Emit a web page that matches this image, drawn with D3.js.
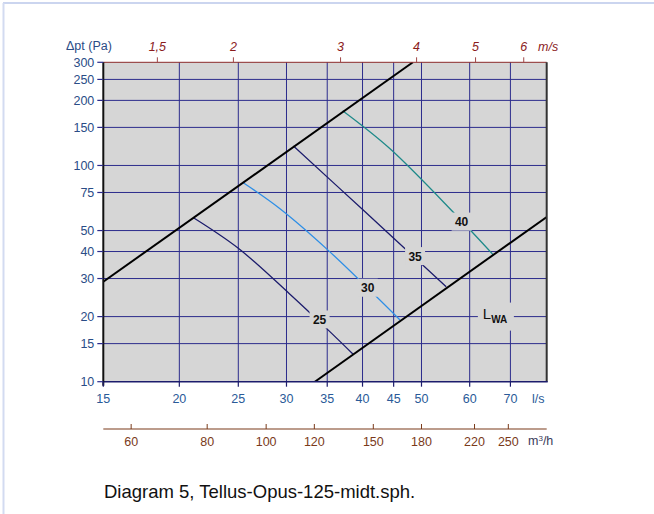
<!DOCTYPE html>
<html>
  <head>
    <meta http-equiv="Content-Type" content="text/html;charset=utf-8"/>
    <script src="https://d3js.org/d3.v7.min.js"></script>
    <style type="text/css">
      body { margin: 0; background: #fff; }
      svg text { font-family: "Liberation Sans", Arial, sans-serif; }
    </style>
  </head>
  <body>
    <div id="chart"></div>

    <script type="text/javascript">
	  // axis ticks
	  var lsTicks = [15, 20, 25, 30, 35, 40, 45, 50, 60, 70];
	  var paTicks = [10, 15, 20, 30, 40, 50, 75, 100, 150, 200, 250, 300];
	  var paGrid = [15, 20, 30, 40, 50, 75, 100, 150, 200, 250];
	  var msTicks = [1.5, 2, 3, 4, 5, 6];
	  var msLabels = ["1,5", "2", "3", "4", "5", "6"];
	  var m3hTicks = [60, 80, 100, 120, 150, 180, 220, 250];

	  // l/s per m/s for the 125 duct
	  var lsPerMs = 12.27;

	  // system lines, [l/s, Pa]
	  var sysUpper = [[15, 29], [48.4, 300]];
	  var sysLower = [[33.4, 10], [80.3, 57.8]];

	  // sound level curves (dB(A)), [l/s, Pa]
	  var curve25 = [[21.1, 57.3], [25, 41.4], [30.3, 25.6], [35, 17.5], [38.6, 13.4]];
	  var curve30 = [[25.4, 83.6], [29.2, 63.4], [35.1, 40.6], [46.1, 19.3]];
	  var curve35 = [[30.8, 123], [40.1, 62.2], [54.9, 27.5]];
	  var curve40 = [[37.1, 179], [44.3, 120], [56.6, 60.1], [65.6, 38.6]];
	  var curveColors = ["#1c1c6c", "#2f8fe6", "#1c1c6c", "#1f8a8a"];

	  // curve labels [text, l/s, Pa]
	  var curveLabels = [["25", 34, 19.4], ["30", 40.8, 27.2], ["35", 48.8, 38.1], ["40", 58.2, 55]];
	  var lwaLabel = [66, 20];

	  var W = 654, H = 514;
	  var pLeft = 103.3, pRight = 546.7, pTop = 62.3, pBottom = 381.7;
	  var gridColor = "#2c2c8c";
	  var plotBg = "#d6d6d6";

	  var svg = d3.select('#chart').append('svg').attr('width', W).attr('height', H);

	  // page frame
	  svg.append('line').attr('x1', 3).attr('x2', W).attr('y1', 3).attr('y2', 3)
	     .attr('stroke', '#cbd5ef').attr('stroke-width', 2);
	  svg.append('line').attr('x1', 3.5).attr('x2', 3.5).attr('y1', 3).attr('y2', H)
	     .attr('stroke', '#d3dbf1').attr('stroke-width', 2);

	  var x = d3.scaleLog().domain([15, 80.3]).range([pLeft, pRight]);
	  var y = d3.scaleLog().domain([10, 300]).range([pBottom, pTop]);

	  svg.append('rect').attr('x', pLeft).attr('y', pTop)
	     .attr('width', pRight - pLeft).attr('height', pBottom - pTop).attr('fill', plotBg);

	  // grid
	  svg.selectAll('.vgrid').data(lsTicks.slice(1)).enter().append('line')
	     .attr('x1', function(d) { return x(d); }).attr('x2', function(d) { return x(d); })
	     .attr('y1', pTop).attr('y2', pBottom).attr('stroke', gridColor).attr('stroke-width', 1);
	  svg.selectAll('.hgrid').data(paGrid).enter().append('line')
	     .attr('x1', pLeft).attr('x2', pRight)
	     .attr('y1', function(d) { return y(d); }).attr('y2', function(d) { return y(d); })
	     .attr('stroke', gridColor).attr('stroke-width', 1);

	  var clip = svg.append('clipPath').attr('id', 'plotclip');
	  clip.append('rect').attr('x', pLeft).attr('y', pTop).attr('width', pRight - pLeft).attr('height', pBottom - pTop);
	  var plot = svg.append('g').attr('clip-path', 'url(#plotclip)');

	  var line = d3.line().x(function(d) { return x(d[0]); }).y(function(d) { return y(d[1]); });
	  var smooth = d3.line().curve(d3.curveCatmullRom.alpha(0.5))
	     .x(function(d) { return x(d[0]); }).y(function(d) { return y(d[1]); });

	  [curve25, curve30, curve35, curve40].forEach(function(c, i) {
		plot.append('path').attr('d', smooth(c)).attr('fill', 'none')
		    .attr('stroke', curveColors[i]).attr('stroke-width', 1.3);
	  });
	  [sysUpper, sysLower].forEach(function(c) {
		plot.append('path').attr('d', line(c)).attr('fill', 'none')
		    .attr('stroke', '#000').attr('stroke-width', 2);
	  });

	  // curve labels with masking box
	  curveLabels.forEach(function(l) {
		var cx = x(l[1]), cy = y(l[2]);
		svg.append('rect').attr('x', cx - 10).attr('y', cy - 9).attr('width', 20).attr('height', 18).attr('fill', plotBg);
		svg.append('text').attr('x', cx).attr('y', cy + 4.5).attr('text-anchor', 'middle')
		   .attr('font-size', 12).attr('font-weight', 'bold').attr('fill', '#111').text(l[0]);
	  });
	  var lx = x(lwaLabel[0]), ly = y(lwaLabel[1]);
	  svg.append('rect').attr('x', lx - 17).attr('y', ly - 14).attr('width', 36).attr('height', 28).attr('fill', plotBg);
	  var lt = svg.append('text').attr('x', lx - 12).attr('y', ly + 2).attr('font-size', 15).attr('fill', '#111');
	  lt.append('tspan').text('L');
	  lt.append('tspan').attr('dy', 4).attr('font-size', 10).attr('font-weight', 'bold').text('WA');

	  // frame lines
	  svg.append('line').attr('x1', pLeft).attr('x2', pRight).attr('y1', pTop).attr('y2', pTop)
	     .attr('stroke', '#8b2a2a').attr('stroke-width', 1);
	  svg.append('line').attr('x1', pRight).attr('x2', pRight).attr('y1', pTop).attr('y2', pBottom)
	     .attr('stroke', '#333').attr('stroke-width', 2);
	  svg.append('line').attr('x1', pLeft).attr('x2', pRight + 1).attr('y1', pBottom).attr('y2', pBottom)
	     .attr('stroke', '#1c1c6c').attr('stroke-width', 1.5);
	  svg.append('line').attr('x1', pLeft).attr('x2', pLeft).attr('y1', pTop).attr('y2', pBottom + 4)
	     .attr('stroke', '#111').attr('stroke-width', 2);

	  // left axis
	  var yTicks = svg.append('g');
	  yTicks.selectAll('line').data(paTicks).enter().append('line')
	     .attr('x1', pLeft - 6).attr('x2', pLeft).attr('y1', function(d) { return y(d); }).attr('y2', function(d) { return y(d); })
	     .attr('stroke', gridColor).attr('stroke-width', 1.2);
	  yTicks.selectAll('text').data(paTicks).enter().append('text')
	     .attr('x', pLeft - 9).attr('y', function(d) { return y(d) + 4.5; }).attr('text-anchor', 'end')
	     .attr('font-size', 12.5).attr('fill', '#2a4c86').text(function(d) { return d; });
	  svg.append('text').attr('x', 66).attr('y', 50).attr('font-size', 12.5).attr('fill', '#2a4c86').text('\u0394pt (Pa)');

	  // bottom l/s axis
	  var xTicks = svg.append('g');
	  xTicks.selectAll('line').data(lsTicks).enter().append('line')
	     .attr('x1', function(d) { return x(d); }).attr('x2', function(d) { return x(d); })
	     .attr('y1', pBottom).attr('y2', pBottom + 5).attr('stroke', '#1c1c6c').attr('stroke-width', 1.2);
	  xTicks.selectAll('text').data(lsTicks).enter().append('text')
	     .attr('x', function(d) { return x(d); }).attr('y', pBottom + 21).attr('text-anchor', 'middle')
	     .attr('font-size', 12.5).attr('fill', '#2a5a98').text(function(d) { return d; });
	  svg.append('text').attr('x', 532).attr('y', pBottom + 21).attr('font-size', 12.5).attr('fill', '#2a5a98').text('l/s');

	  // top m/s axis
	  var mTicks = svg.append('g');
	  mTicks.selectAll('line').data(msTicks).enter().append('line')
	     .attr('x1', function(d) { return x(d * lsPerMs); }).attr('x2', function(d) { return x(d * lsPerMs); })
	     .attr('y1', pTop - 5).attr('y2', pTop).attr('stroke', '#a04848').attr('stroke-width', 1);
	  mTicks.selectAll('text').data(msTicks).enter().append('text')
	     .attr('x', function(d) { return x(d * lsPerMs); }).attr('y', 51).attr('text-anchor', 'middle')
	     .attr('font-size', 12.5).attr('font-style', 'italic').attr('fill', '#8b1c1c')
	     .text(function(d, i) { return msLabels[i]; });
	  svg.append('text').attr('x', 538).attr('y', 51).attr('font-size', 12.5).attr('font-style', 'italic')
	     .attr('fill', '#8b1c1c').text('m/s');

	  // m3/h axis
	  var qy = 429;
	  svg.append('line').attr('x1', pLeft).attr('x2', pRight).attr('y1', qy).attr('y2', qy)
	     .attr('stroke', '#7a3a1a').attr('stroke-width', 1.2);
	  var hTicks = svg.append('g');
	  hTicks.selectAll('line').data(m3hTicks).enter().append('line')
	     .attr('x1', function(d) { return x(d / 3.6); }).attr('x2', function(d) { return x(d / 3.6); })
	     .attr('y1', qy - 5).attr('y2', qy).attr('stroke', '#7a3a1a').attr('stroke-width', 1);
	  hTicks.selectAll('text').data(m3hTicks).enter().append('text')
	     .attr('x', function(d) { return x(d / 3.6); }).attr('y', qy + 17).attr('text-anchor', 'middle')
	     .attr('font-size', 12.5).attr('fill', '#7a3a1a').text(function(d) { return d; });
	  var mt = svg.append('text').attr('x', 528).attr('y', qy + 16).attr('font-size', 12.5).attr('fill', '#3a3a5a');
	  mt.append('tspan').text('m');
	  mt.append('tspan').attr('dy', -4).attr('font-size', 8).text('3');
	  mt.append('tspan').attr('dy', 4).text('/h');

	  // caption
	  svg.append('text').attr('x', 104).attr('y', 498).attr('font-size', 18.5).attr('fill', '#111')
	     .text('Diagram 5, Tellus-Opus-125-midt.sph.');
    </script>
  </body>
</html>
